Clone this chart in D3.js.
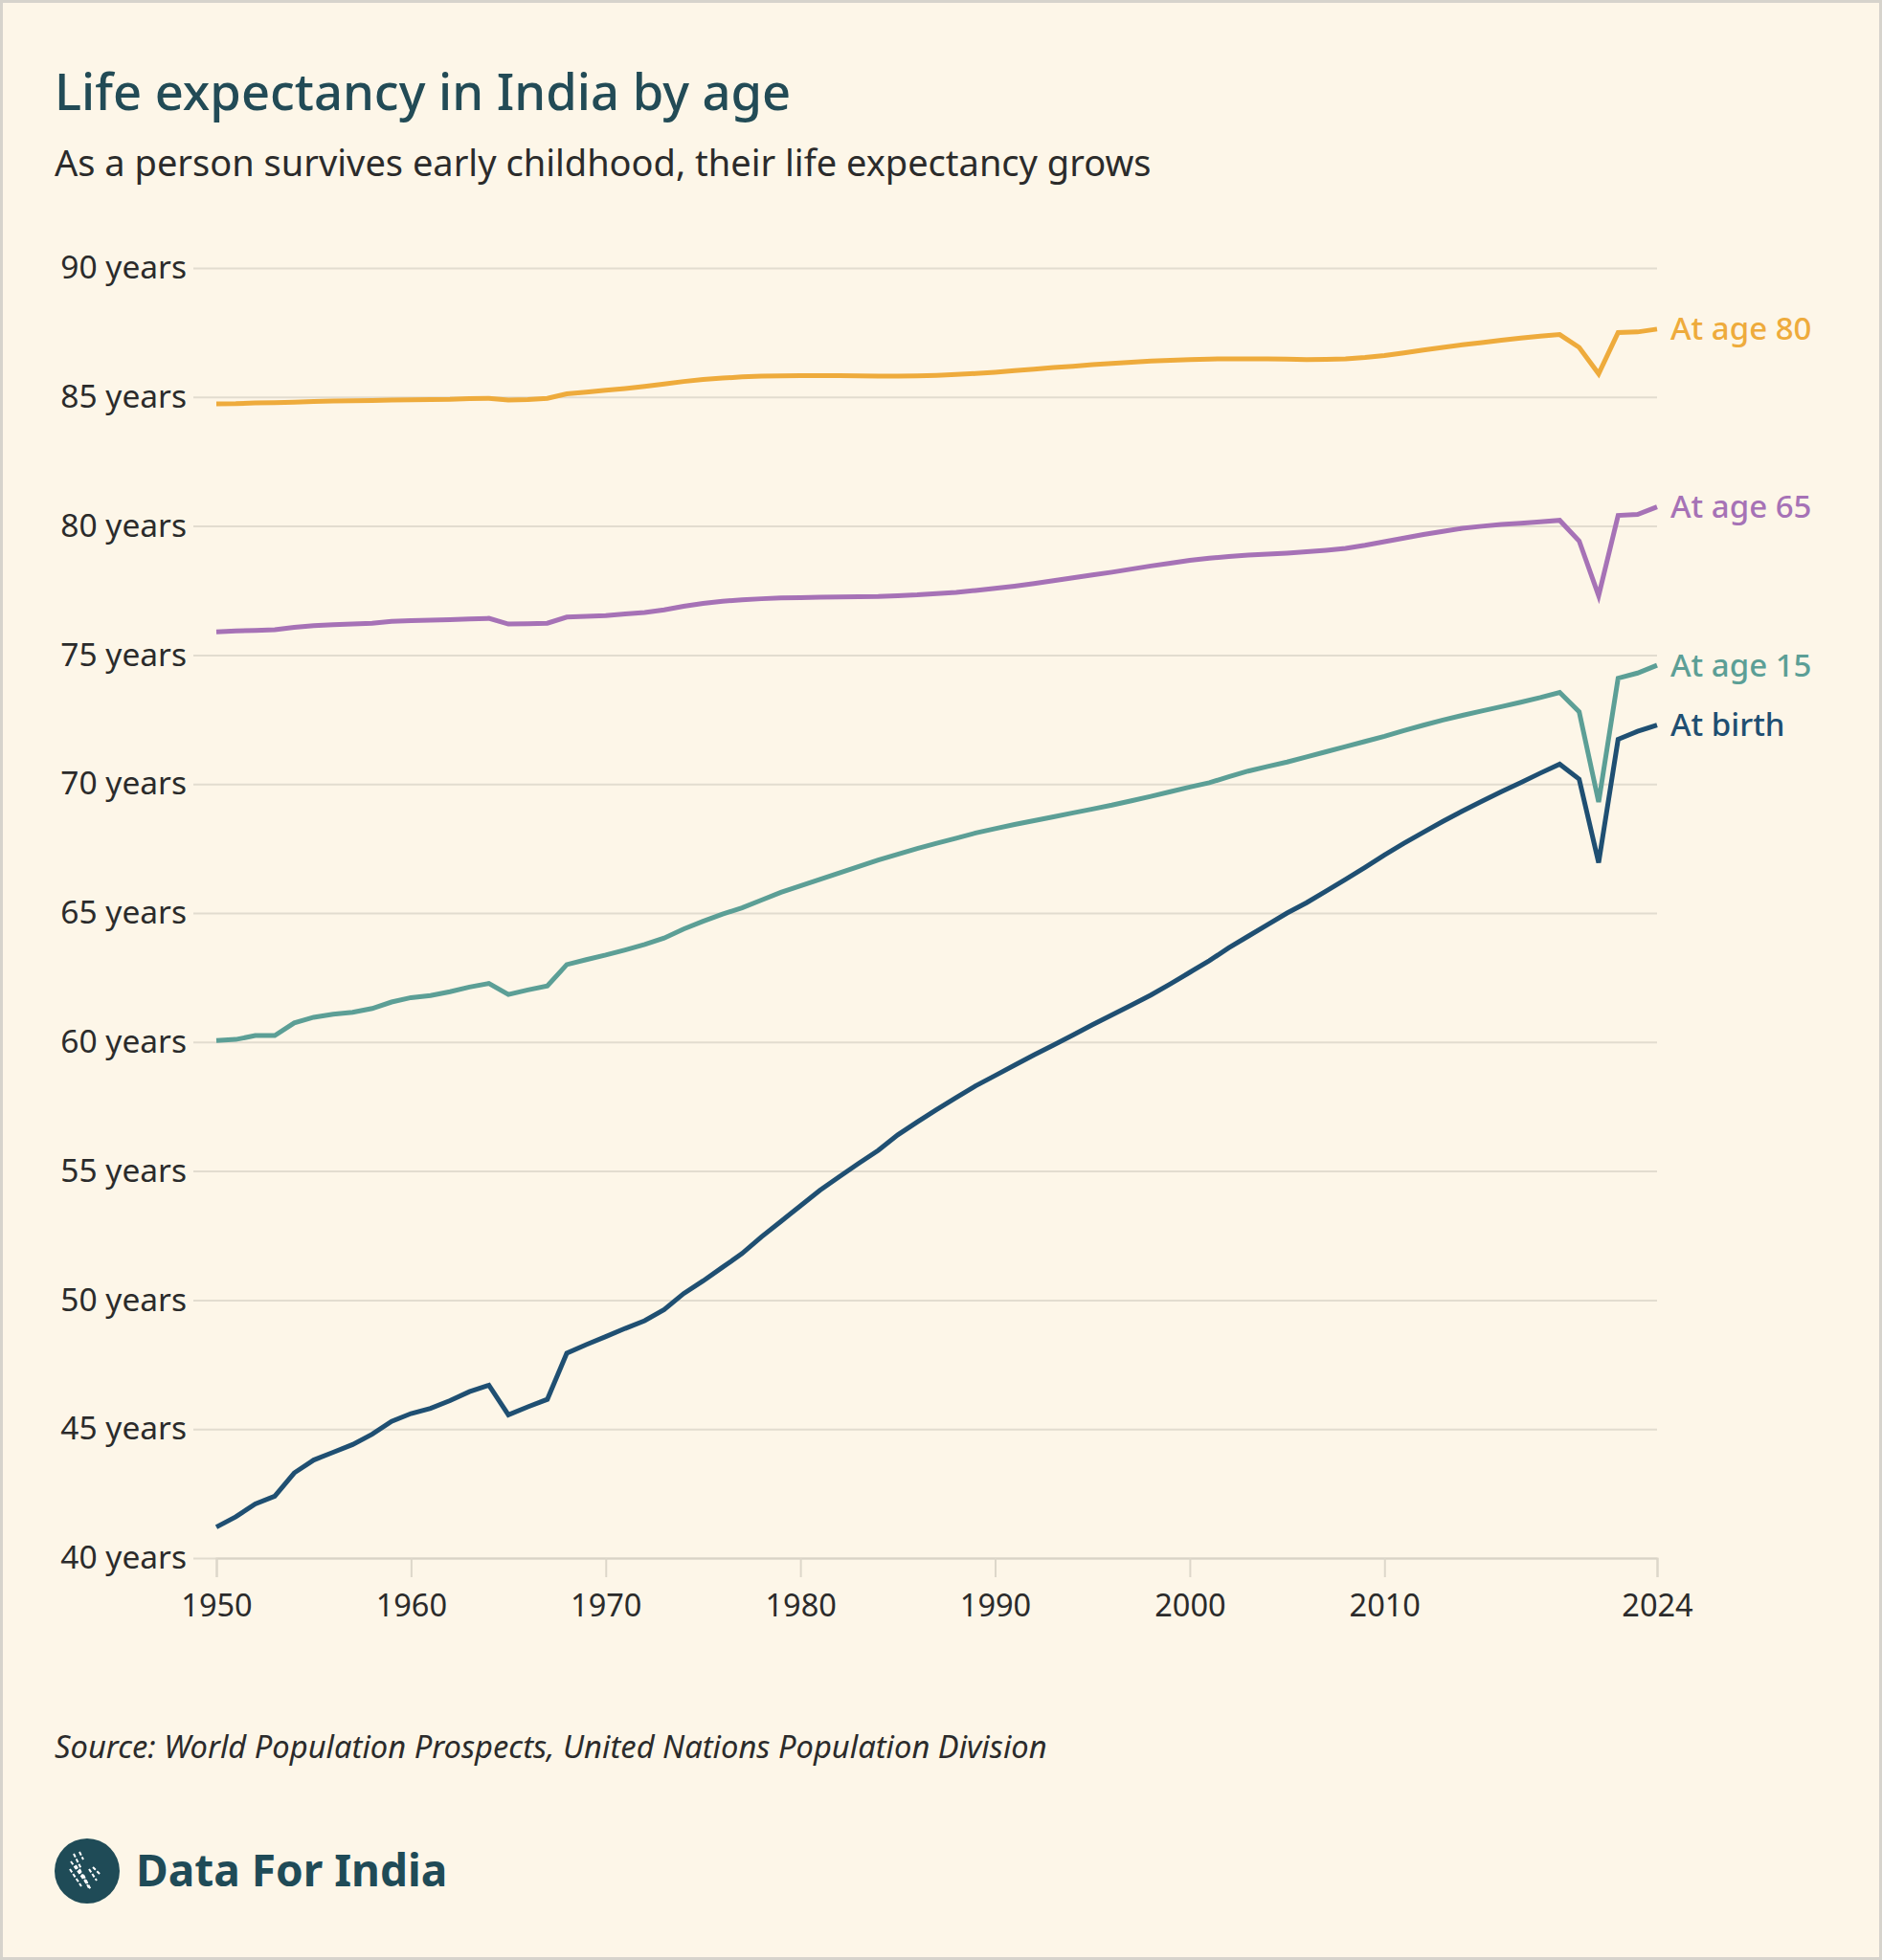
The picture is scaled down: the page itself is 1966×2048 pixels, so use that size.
<!DOCTYPE html>
<html>
<head>
<meta charset="utf-8">
<script src="https://cdn.jsdelivr.net/npm/d3@7/dist/d3.min.js"></script>
<style>
  html, body { margin: 0; padding: 0; background: #fdf6e8; }
  svg { display: block; }
  text { font-family: "Noto Sans", "Open Sans", sans-serif; }
</style>
</head>
<body>
<div id="root"></div>
<script>
const years = d3.range(1950, 2025);

const atBirth = [
  41.2, 41.6, 42.1, 42.4, 43.3, 43.8, 44.1, 44.4, 44.8, 45.3,
  45.6, 45.8, 46.1, 46.45, 46.7, 45.55, 45.86, 46.15, 47.94, 48.27,
  48.58, 48.9, 49.2, 49.63, 50.25, 50.74, 51.27, 51.8, 52.45, 53.05,
  53.65, 54.25, 54.78, 55.3, 55.8, 56.4, 56.9, 57.38, 57.85, 58.3,
  58.7, 59.1, 59.5, 59.88, 60.27, 60.67, 61.05, 61.43, 61.82, 62.25,
  62.7, 63.15, 63.65, 64.1, 64.55, 65.0, 65.4, 65.85, 66.3, 66.77,
  67.25, 67.7, 68.13, 68.55, 68.95, 69.33, 69.7, 70.05, 70.42, 70.77,
  70.19, 66.95, 71.73, 72.04, 72.28
];

const atAge15 = [
  60.06, 60.1, 60.25, 60.25, 60.74, 60.96, 61.08, 61.15, 61.3, 61.55,
  61.72, 61.8, 61.95, 62.13, 62.27, 61.84, 62.02, 62.17, 63.0, 63.19,
  63.37, 63.57, 63.78, 64.03, 64.38, 64.68, 64.96, 65.2, 65.5, 65.8,
  66.05, 66.3, 66.55, 66.8, 67.05, 67.28, 67.5, 67.7, 67.9, 68.1,
  68.27, 68.43, 68.58, 68.73, 68.88, 69.03, 69.18, 69.35, 69.52, 69.7,
  69.88, 70.05, 70.28, 70.5, 70.68, 70.85, 71.05, 71.25, 71.45, 71.65,
  71.85, 72.07, 72.28, 72.48, 72.66, 72.83, 73.0, 73.17, 73.35, 73.55,
  72.8, 69.3, 74.1, 74.3, 74.6
];

const atAge65 = [
  75.9, 75.93, 75.95, 75.98, 76.07, 76.14, 76.17, 76.2, 76.23, 76.3,
  76.33, 76.35, 76.37, 76.4, 76.42, 76.2, 76.21, 76.23, 76.47, 76.5,
  76.53, 76.59, 76.65, 76.75, 76.89, 77.0, 77.08, 77.14, 77.18, 77.21,
  77.22, 77.24, 77.25, 77.26, 77.27, 77.3, 77.33, 77.38, 77.43, 77.5,
  77.58, 77.67, 77.77, 77.88, 77.99, 78.1, 78.21, 78.33, 78.45, 78.56,
  78.67, 78.75, 78.82, 78.87, 78.91, 78.95, 79.0, 79.06, 79.13, 79.25,
  79.39, 79.53, 79.67, 79.79, 79.91, 79.99, 80.06, 80.11, 80.16, 80.22,
  79.42, 77.3, 80.41, 80.45, 80.74
];

const atAge80 = [
  84.73, 84.74, 84.77, 84.78, 84.8, 84.83, 84.84, 84.85, 84.86, 84.88,
  84.89, 84.9, 84.91, 84.94, 84.95, 84.88, 84.9, 84.95, 85.12, 85.19,
  85.26, 85.33, 85.41, 85.5, 85.6, 85.68, 85.73, 85.78, 85.81, 85.82,
  85.83, 85.83, 85.83, 85.82, 85.81, 85.81, 85.82, 85.84, 85.87, 85.91,
  85.96, 86.02, 86.08, 86.14, 86.19, 86.25, 86.3, 86.35, 86.39, 86.42,
  86.45, 86.47, 86.48, 86.48, 86.48, 86.47, 86.45, 86.46, 86.48, 86.53,
  86.61, 86.71, 86.82, 86.92, 87.02, 87.11, 87.2, 87.28, 87.36, 87.42,
  86.92, 85.9, 87.5, 87.52, 87.63
];

const seriesNames = ['At age 80', 'At age 65', 'At age 15', 'At birth'];
const seriesColors = ['#eeab3c', '#a672b6', '#5c9f96', '#1f4f72'];
const seriesValues = [atAge80, atAge65, atAge15, atBirth];

const yTicks = [40, 45, 50, 55, 60, 65, 70, 75, 80, 85, 90];
const xTicks = [1950, 1960, 1970, 1980, 1990, 2000, 2010, 2024];

const title = 'Life expectancy in India by age';
const subtitle = 'As a person survives early childhood, their life expectancy grows';
const source = 'Source: World Population Prospects, United Nations Population Division';
const brand = 'Data For India';

const width = 1966;
const height = 2048;
const margin = {top: 280, right: 235, bottom: 420, left: 226};

const svg = d3.select('#root')
  .append('svg')
  .attr('width', width)
  .attr('height', height);

svg.append('rect')
  .attr('x', 1.5).attr('y', 1.5)
  .attr('width', width - 3).attr('height', height - 3)
  .attr('fill', '#fdf6e8')
  .attr('stroke', '#d6d3cc')
  .attr('stroke-width', 3);

svg.append('text')
  .attr('x', 57).attr('y', 115)
  .attr('fill', '#224b56')
  .attr('font-size', 52.5)
  .attr('font-weight', 500)
  .text(title);

svg.append('text')
  .attr('x', 57).attr('y', 184)
  .attr('fill', '#2b2b2b')
  .attr('font-size', 38)
  .text(subtitle);

const x = d3.scaleLinear()
  .domain([1950, 2024])
  .range([margin.left, width - margin.right]);

const y = d3.scaleLinear()
  .domain([40, 90])
  .range([height - margin.bottom, margin.top]);

// gridlines + y labels
const yAxis = svg.append('g')
  .attr('transform', `translate(${margin.left - 24},0)`)
  .call(d3.axisLeft(y)
    .tickValues(yTicks)
    .tickSize(-(width - margin.right - margin.left + 24))
    .tickPadding(7)
    .tickFormat(d => `${d} years`));
yAxis.select('.domain').remove();
yAxis.selectAll('.tick line')
  .attr('stroke', '#e2dccf')
  .attr('stroke-width', 2);
yAxis.selectAll('.tick text')
  .attr('fill', '#2b2b2b')
  .attr('font-size', 33.5)
  .attr('font-family', '"Noto Sans", sans-serif');

// x axis
const xAxis = svg.append('g')
  .attr('transform', `translate(0,${height - margin.bottom})`)
  .call(d3.axisBottom(x)
    .tickValues(xTicks)
    .tickSize(20)
    .tickPadding(18)
    .tickFormat(d3.format('d')));
xAxis.select('.domain')
  .attr('stroke', '#d9d3c6')
  .attr('stroke-width', 2);
xAxis.selectAll('.tick line')
  .attr('stroke', '#ddd7ca')
  .attr('stroke-width', 2);
xAxis.selectAll('.tick text')
  .attr('fill', '#2b2b2b')
  .attr('font-size', 32.5)
  .attr('font-family', '"Noto Sans", sans-serif');

const line = d3.line()
  .x((d, i) => x(years[i]))
  .y(d => y(d));

svg.append('g')
  .selectAll('path')
  .data(seriesValues)
  .enter()
  .append('path')
  .attr('d', line)
  .attr('fill', 'none')
  .attr('stroke', (d, i) => seriesColors[i])
  .attr('stroke-width', 5)
  .attr('stroke-linejoin', 'miter');

svg.append('g')
  .selectAll('text')
  .data(seriesValues)
  .enter()
  .append('text')
  .attr('x', x(2024) + 14)
  .attr('y', d => y(d[d.length - 1]))
  .attr('dy', '0.35em')
  .attr('fill', (d, i) => seriesColors[i])
  .attr('font-size', 33)
  .attr('font-weight', 500)
  .text((d, i) => seriesNames[i]);

svg.append('text')
  .attr('x', 57).attr('y', 1837)
  .attr('fill', '#2b2b2b')
  .attr('font-size', 32.7)
  .attr('font-style', 'italic')
  .text(source);

// logo
const logo = svg.append('g').attr('transform', 'translate(91,1955)');
logo.append('circle').attr('r', 34).attr('fill', '#1f4b57');
const stripes = [[-14, -18, -6, -2], [-17, -10, -4, 8], [-18, -2, -6, 16], [-12, -6, 0, 14],
  [-8, -2, 2, 18], [-4, 4, 4, 20], [2, -2, 10, 10], [6, -4, 14, 4], [-8, -20, -4, -12]];
logo.selectAll('line')
  .data(stripes)
  .enter()
  .append('line')
  .attr('x1', d => d[0]).attr('y1', d => d[1])
  .attr('x2', d => d[2]).attr('y2', d => d[3])
  .attr('stroke', '#ffffff')
  .attr('stroke-width', 2)
  .attr('stroke-dasharray', '4 2');

svg.append('text')
  .attr('x', 142).attr('y', 1971)
  .attr('fill', '#1f4b57')
  .attr('font-size', 46)
  .attr('font-weight', 700)
  .text(brand);
</script>
</body>
</html>
